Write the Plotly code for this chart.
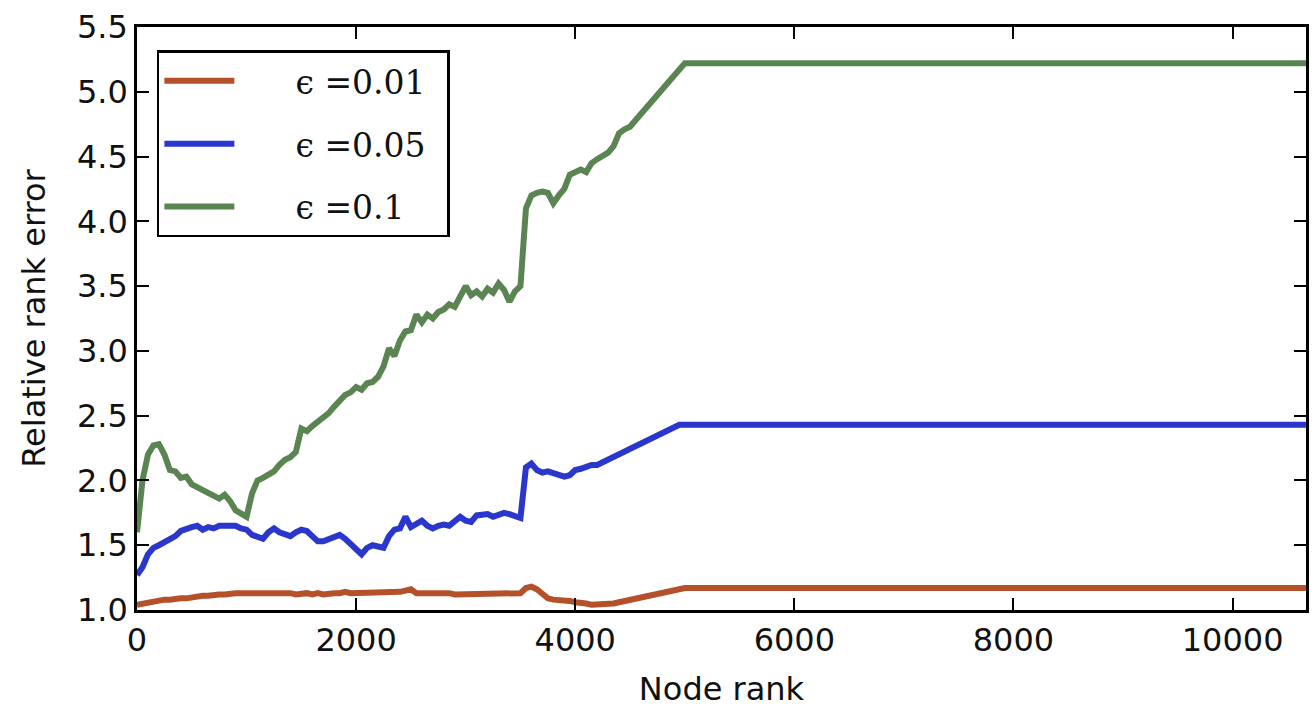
import plotly.graph_objects as go

# Node rank sample positions (step 50 up to 5000, then last rank)
node_rank = [i * 50 for i in range(101)] + [10670]

err_001 = [1.04, 1.05, 1.05, 1.06, 1.07, 1.08, 1.08, 1.09, 1.09, 1.09,
           1.10, 1.10, 1.11, 1.11, 1.12, 1.12, 1.12, 1.13, 1.13, 1.13,
           1.13, 1.13, 1.13, 1.14, 1.13, 1.14, 1.13, 1.13, 1.13, 1.12,
           1.13, 1.13, 1.12, 1.13, 1.12, 1.13, 1.13, 1.13, 1.14, 1.13,
           1.13, 1.14, 1.13, 1.14, 1.13, 1.13, 1.14, 1.14, 1.14, 1.15,
           1.16, 1.13, 1.13, 1.14, 1.13, 1.13, 1.14, 1.13, 1.12, 1.12,
           1.12, 1.12, 1.12, 1.12, 1.12, 1.12, 1.12, 1.12, 1.12, 1.12,
           1.13, 1.17, 1.18, 1.16, 1.12, 1.09, 1.08, 1.08, 1.07, 1.07,
           1.06, 1.06, 1.05, 1.04, 1.04, 1.04, 1.04, 1.05, 1.06, 1.07,
           1.08, 1.09, 1.10, 1.11, 1.12, 1.13, 1.14, 1.15, 1.16, 1.17,
           1.17, 1.17]

err_005 = [1.27, 1.33, 1.43, 1.48, 1.50, 1.52, 1.55, 1.57, 1.61, 1.63,
           1.64, 1.65, 1.62, 1.64, 1.63, 1.65, 1.65, 1.64, 1.65, 1.63,
           1.62, 1.58, 1.57, 1.55, 1.60, 1.63, 1.60, 1.58, 1.57, 1.60,
           1.62, 1.61, 1.57, 1.53, 1.53, 1.55, 1.56, 1.58, 1.55, 1.51,
           1.46, 1.43, 1.48, 1.50, 1.49, 1.48, 1.57, 1.62, 1.63, 1.72,
           1.64, 1.66, 1.69, 1.65, 1.63, 1.65, 1.66, 1.65, 1.68, 1.72,
           1.69, 1.68, 1.73, 1.74, 1.74, 1.72, 1.73, 1.75, 1.74, 1.72,
           1.71, 2.10, 2.13, 2.08, 2.06, 2.07, 2.06, 2.05, 2.03, 2.04,
           2.08, 2.09, 2.11, 2.12, 2.12, 2.14, 2.16, 2.18, 2.20, 2.22,
           2.24, 2.26, 2.28, 2.31, 2.33, 2.35, 2.37, 2.39, 2.41, 2.43,
           2.43, 2.43]

err_01 = [1.60, 2.00, 2.20, 2.27, 2.28, 2.20, 2.08, 2.07, 2.02, 2.03,
          1.97, 1.95, 1.93, 1.90, 1.88, 1.86, 1.89, 1.84, 1.77, 1.74,
          1.72, 1.90, 2.00, 2.02, 2.05, 2.07, 2.12, 2.16, 2.18, 2.22,
          2.40, 2.38, 2.42, 2.45, 2.48, 2.52, 2.57, 2.62, 2.66, 2.68,
          2.72, 2.70, 2.75, 2.76, 2.80, 2.88, 3.02, 2.96, 3.08, 3.15,
          3.16, 3.28, 3.22, 3.28, 3.25, 3.30, 3.32, 3.36, 3.34, 3.42,
          3.50, 3.43, 3.46, 3.42, 3.48, 3.45, 3.52, 3.47, 3.38, 3.46,
          3.50, 4.10, 4.20, 4.22, 4.23, 4.22, 4.14, 4.20, 4.25, 4.36,
          4.38, 4.40, 4.38, 4.45, 4.48, 4.50, 4.53, 4.58, 4.68, 4.71,
          4.73, 4.78, 4.83, 4.88, 4.93, 4.98, 5.03, 5.08, 5.12, 5.17,
          5.22, 5.22]

series_names = ["ϵ =0.01", "ϵ =0.05", "ϵ =0.1"]
series_values = [err_001, err_005, err_01]
series_colors = ["#B5512A", "#2A36CC", "#5A8452"]

x_tick_vals = [0, 2000, 4000, 6000, 8000, 10000]
y_tick_vals = [1.0, 1.5, 2.0, 2.5, 3.0, 3.5, 4.0, 4.5, 5.0, 5.5]

fig = go.Figure()
for i, (name, vals, col) in enumerate(zip(series_names, series_values, series_colors)):
    fig.add_trace(go.Scatter(
        x=node_rank, y=vals, mode="lines",
        # em/en/thin spaces pad the legend entry like the original layout
        name="\u2003\u2002\u2009" + name + "\u2002",
        legendgroup=f"g{i}",
        line=dict(color=col, width=6),
    ))

axis_common = dict(
    showline=True, linecolor="black", linewidth=2.5, mirror="ticks",
    ticks="inside", ticklen=12, tickwidth=1.5, tickcolor="black",
    showgrid=False, zeroline=False,
    tickfont=dict(family="DejaVu Sans", size=32, color="#111"),
)

fig.update_xaxes(range=[0, 10670], tickvals=x_tick_vals,
                 ticktext=[str(v) for v in x_tick_vals],
                 title=dict(text="Node rank", font=dict(family="DejaVu Sans", size=32, color="#111"), standoff=20),
                 **axis_common)
fig.update_yaxes(range=[1.0, 5.5], tickvals=y_tick_vals,
                 ticktext=[f"{v:.1f}" for v in y_tick_vals],
                 title=dict(text="Relative rank error", font=dict(family="DejaVu Sans", size=32, color="#111"), standoff=22),
                 **axis_common)

fig.update_layout(
    width=1316, height=709,
    margin=dict(l=137, r=7, t=27, b=97),
    plot_bgcolor="white", paper_bgcolor="white",
    showlegend=True,
    legend=dict(
        x=0.017, y=0.96, xanchor="left", yanchor="top",
        bordercolor="black", borderwidth=2.5, bgcolor="white",
        font=dict(family="DejaVu Serif", size=33, color="#111"),
        itemwidth=70, tracegroupgap=17,
    ),
)

fig.write_html("out.html")
